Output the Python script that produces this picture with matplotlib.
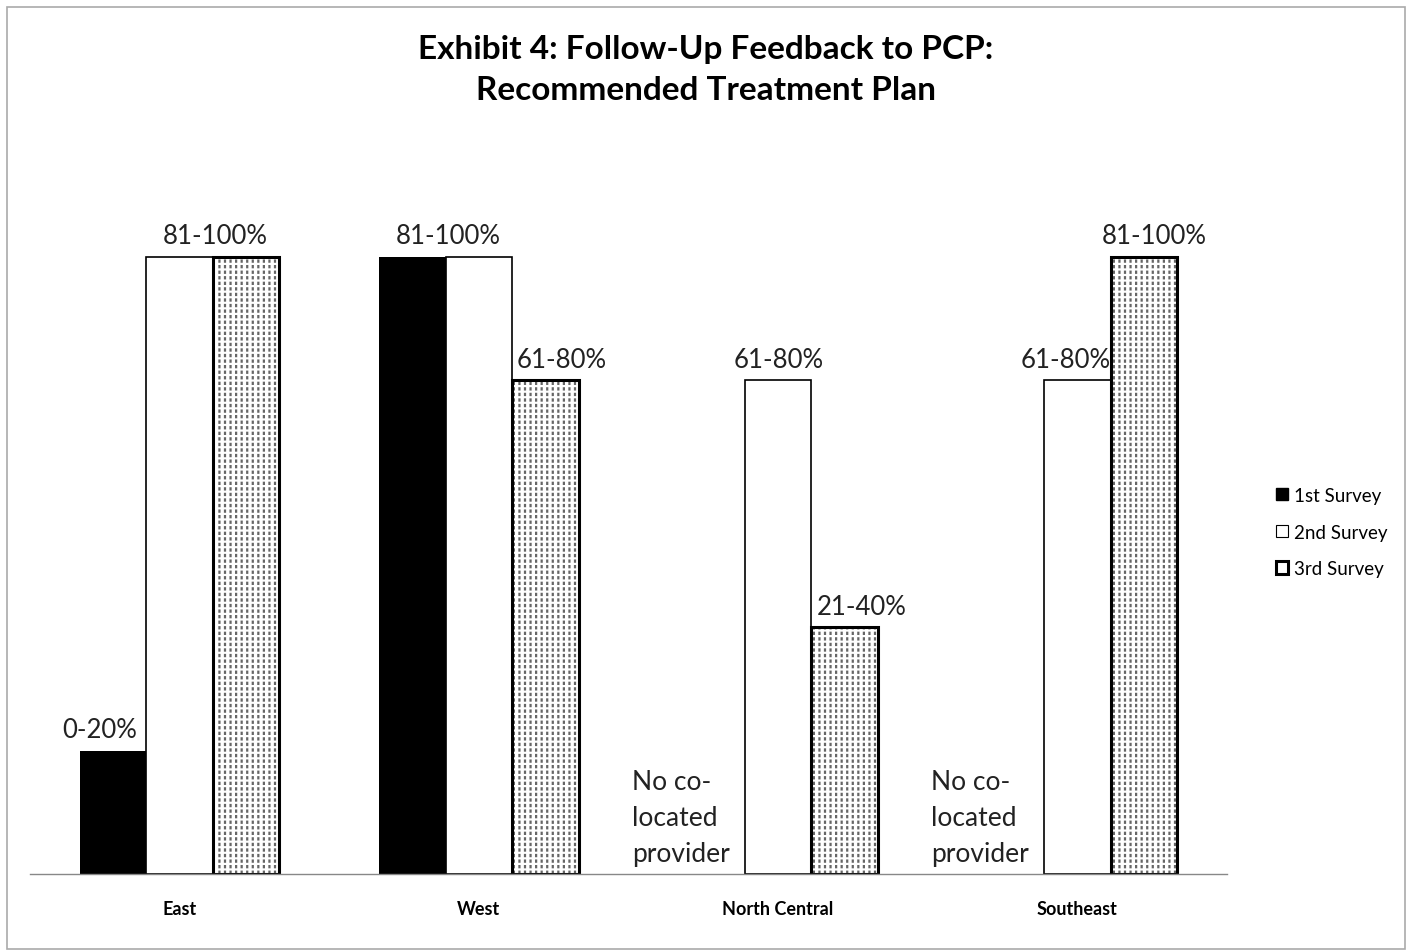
import matplotlib
matplotlib.use("Agg")
import matplotlib.pyplot as plt
from matplotlib.patches import Patch, Rectangle
import numpy as np

plt.rcParams['font.family'] = ['Lato', 'DejaVu Sans']
plt.rcParams['hatch.linewidth'] = 1.6

# data: survey level 1=0-20%, 2=21-40%, 3=41-60%, 4=61-80%, 5=81-100%; None = no co-located provider
regions = ["East", "West", "North Central", "Southeast"]
survey_names = ["1st Survey", "2nd Survey", "3rd Survey"]
survey1 = [1, 5, None, None]
survey2 = [5, 5, 4, 4]
survey3 = [5, 4, 2, 5]
level_labels = {1: "0-20%", 2: "21-40%", 4: "61-80%", 5: "81-100%"}

# which bars carry a value label, and where (x offset from group centre)
value_labels = [
    (0, 1, -0.268), (0, 5, 0.12),
    (1, 5, -0.104), (1, 4, 0.278),
    (2, 4, 0.003), (2, 2, 0.278),
    (3, 4, -0.04), (3, 5, 0.258),
]
missing_note = "No co-\nlocated\nprovider"

fig = plt.figure(figsize=(14.12, 9.53), dpi=100)
ax = fig.add_axes([30 / 1412, 1 - 875 / 953, (1227 - 30) / 1412, (875 - 196) / 953])

x = np.arange(len(regions))
w = 0.222

def clean(vals):
    return [v if v is not None else 0 for v in vals]

# 1st survey: solid black
ax.bar(x - w, clean(survey1), w, color="black", edgecolor="black", linewidth=0)
# 2nd survey: white
ax.bar(x, clean(survey2), w, color="white", edgecolor="black", linewidth=1.2)
# 3rd survey: dashed vertical texture (grey lines broken up by white lines)
ax.bar(x + w, survey3, w, color="white", edgecolor="#666666", linewidth=0, hatch="|||")
ax.bar(x + w, survey3, w, color="none", edgecolor="white", linewidth=0, hatch="---")
ax.bar(x + w, survey3, w, color="none", edgecolor="black", linewidth=2.2)

for gi, lvl, dx in value_labels:
    ax.text(gi + dx, lvl + 0.17, level_labels[lvl], ha="center", va="center",
            fontsize=18.5, color="#222222")

for gi, v in enumerate(survey1):
    if v is None:
        ax.text(gi - 0.488, 0.46, missing_note, ha="left", va="center",
                fontsize=19, linespacing=1.55, color="#222222")

ax.set_xlim(-0.5, len(regions) - 0.5)
ax.set_ylim(0, 5.5)
ax.set_yticks([])
ax.set_xticks(x)
ax.set_xticklabels(regions, fontsize=13, fontweight="bold")
ax.tick_params(axis="x", length=0, pad=19)
for s in ["top", "right", "left"]:
    ax.spines[s].set_visible(False)
ax.spines["bottom"].set_color("#888888")
ax.spines["bottom"].set_linewidth(1)
ax.set_facecolor("none")

fig.text(706 / 1412, 1 - 70 / 953,
         "Exhibit 4: Follow-Up Feedback to PCP:\nRecommended Treatment Plan",
         ha="center", va="center", fontsize=24, fontweight="bold", linespacing=1.5)

handles = [
    Patch(facecolor="black", edgecolor="black"),
    Patch(facecolor="white", edgecolor="black", linewidth=0.8),
    Patch(facecolor="white", edgecolor="black", linewidth=2.2, hatch="|"),
]
fig.legend(handles, survey_names, loc="center left",
           bbox_to_anchor=(1259 / 1412, 1 - 533 / 953), frameon=False,
           fontsize=13.5, handlelength=0.65, handleheight=0.65,
           handletextpad=0.3, labelspacing=1.05)

fig.patches.append(Rectangle((7 / 1412, 1 - 950 / 953), 1398 / 1412, 942 / 953,
                             transform=fig.transFigure, fill=False,
                             edgecolor="#aaaaaa", linewidth=1.2))

fig.savefig("out.png", dpi=100)
